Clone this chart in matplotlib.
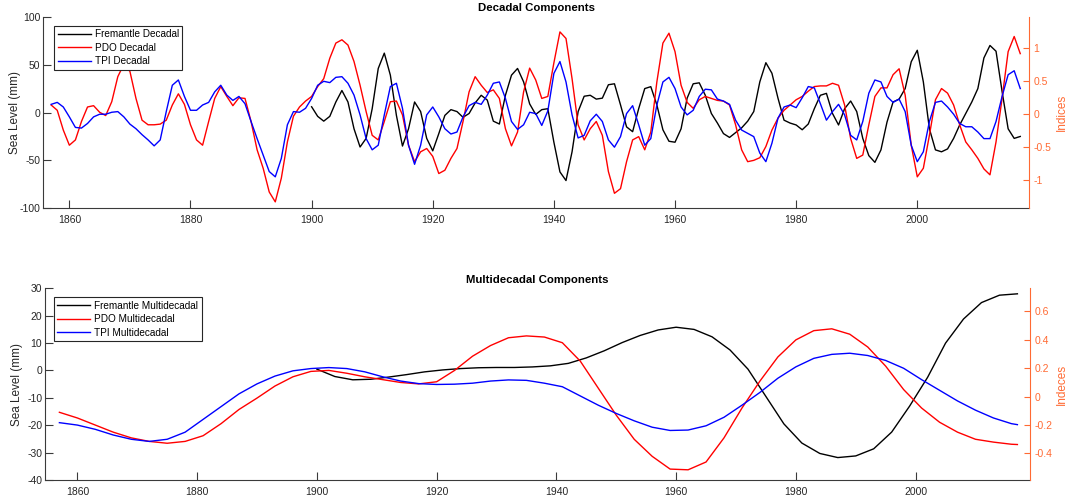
import matplotlib
matplotlib.use('Agg')
import matplotlib.pyplot as plt
import numpy as np
from matplotlib.ticker import FormatStrFormatter

plt.rcParams['font.family'] = ['Liberation Sans', 'DejaVu Sans']
plt.rcParams['axes.unicode_minus'] = False

# ---- decadal components (yearly) ----
years_dec = np.arange(1857, 2018)
years_frem_dec = np.arange(1900, 2018)

pdo_dec = [0.14, 0.06, -0.24,
           -0.47, -0.39, -0.11, 0.11, 0.13, 0.03, -0.02, 0.19, 0.57, 0.76,
           0.65, 0.24, -0.09, -0.16, -0.16, -0.15, -0.09, 0.14, 0.31, 0.15,
           -0.16, -0.39, -0.47, -0.11, 0.24, 0.42, 0.27, 0.13, 0.25, 0.24,
           -0.11, -0.54, -0.82, -1.18, -1.33, -0.97, -0.42, -0.03, 0.11, 0.20,
           0.27, 0.42, 0.54, 0.85, 1.08, 1.13, 1.05, 0.80, 0.44, 0.04,
           -0.32, -0.39, -0.11, 0.19, 0.20, -0.01, -0.47, -0.72, -0.57, -0.52,
           -0.64, -0.90, -0.85, -0.67, -0.52, -0.11, 0.34, 0.57, 0.44, 0.33,
           0.37, 0.24, -0.22, -0.48, -0.27, 0.34, 0.70, 0.52, 0.24, 0.27,
           0.78, 1.25, 1.15, 0.54, -0.16, -0.39, -0.22, -0.11, -0.32, -0.87,
           -1.20, -1.13, -0.72, -0.39, -0.34, -0.54, -0.27, 0.49, 1.08, 1.23,
           0.95, 0.44, 0.18, 0.09, 0.22, 0.27, 0.24, 0.21, 0.20, 0.14,
           -0.16, -0.54, -0.72, -0.70, -0.66, -0.49, -0.24, -0.06, 0.06, 0.14,
           0.22, 0.27, 0.35, 0.42, 0.43, 0.43, 0.47, 0.44, 0.14, -0.37,
           -0.67, -0.62, -0.16, 0.27, 0.40, 0.40, 0.60, 0.69, 0.29, -0.47,
           -0.95, -0.82, -0.32, 0.22, 0.39, 0.32, 0.14, -0.16, -0.42, -0.54,
           -0.67, -0.83, -0.92, -0.42, 0.24, 0.95, 1.18, 0.92]

tpi_dec = [0.15, 0.18, 0.11,
           -0.04, -0.20, -0.21, -0.14, -0.04, 0.00, 0.00, 0.03, 0.04, -0.04,
           -0.15, -0.22, -0.31, -0.39, -0.48, -0.39, 0.04, 0.44, 0.52, 0.27,
           0.06, 0.06, 0.14, 0.18, 0.34, 0.44, 0.29, 0.21, 0.27, 0.16,
           -0.11, -0.37, -0.62, -0.87, -0.95, -0.67, -0.16, 0.04, 0.03, 0.09,
           0.24, 0.44, 0.50, 0.48, 0.56, 0.57, 0.47, 0.29, -0.01, -0.37,
           -0.54, -0.47, -0.01, 0.42, 0.47, 0.09, -0.47, -0.76, -0.47, -0.01,
           0.11, -0.04, -0.22, -0.30, -0.27, -0.04, 0.13, 0.18, 0.15, 0.29,
           0.47, 0.49, 0.24, -0.11, -0.23, -0.16, 0.03, 0.01, -0.17, 0.05,
           0.62, 0.80, 0.49, -0.01, -0.36, -0.32, -0.10, 0.00, -0.11, -0.39,
           -0.50, -0.34, 0.01, 0.13, -0.16, -0.47, -0.37, 0.14, 0.49, 0.56,
           0.39, 0.11, -0.01, 0.06, 0.27, 0.38, 0.37, 0.23, 0.20, 0.15,
           -0.09, -0.24, -0.29, -0.34, -0.59, -0.72, -0.44, -0.06, 0.11, 0.14,
           0.10, 0.25, 0.42, 0.40, 0.16, -0.09, 0.04, 0.15, -0.01, -0.32,
           -0.39, -0.11, 0.32, 0.52, 0.49, 0.27, 0.18, 0.23, 0.04, -0.47,
           -0.72, -0.57, -0.11, 0.18, 0.20, 0.11, 0.00, -0.14, -0.19, -0.19,
           -0.27, -0.37, -0.37, -0.11, 0.27, 0.60, 0.66, 0.39]

frem_dec = [6, -4, -9, -4, 11, 23, 11, -17, -36, -27,
            4, 46, 62, 39, -3, -35, -17, 11, 1, -27,
            -40, -22, -3, 3, 1, -5, -1, 10, 18, 13,
            -9, -12, 18, 39, 46, 32, 9, -2, 3, 4,
            -31, -62, -71, -41, 1, 17, 18, 14, 15, 29,
            30, 8, -15, -20, 4, 25, 27, 8, -18, -30,
            -31, -17, 15, 30, 31, 18, -1, -11, -22, -26,
            -21, -16, -9, 1, 32, 52, 41, 15, -8, -11,
            -13, -18, -12, 4, 18, 20, -1, -13, 4, 12,
            1, -27, -45, -52, -39, -10, 11, 14, 25, 53,
            65, 32, -17, -39, -41, -38, -27, -13, -1, 11,
            25, 57, 70, 64, 22, -17, -27, -25]

# ---- multidecadal components ----
years_md = np.append(np.arange(1857, 2017, 3), 2017)
years_frem_md = np.arange(1900, 2018, 3)

pdo_md = [-0.11, -0.15, -0.20, -0.25, -0.29, -0.315, -0.328, -0.315, -0.275, -0.19,
          -0.09, -0.01, 0.075, 0.14, 0.178, 0.185, 0.165, 0.14, 0.12, 0.10,
          0.09, 0.105, 0.185, 0.285, 0.36, 0.415, 0.428, 0.42, 0.38, 0.25,
          0.06, -0.13, -0.30, -0.42, -0.51, -0.515, -0.46, -0.29, -0.08, 0.11,
          0.28, 0.40, 0.465, 0.478, 0.44, 0.35, 0.215, 0.05, -0.08, -0.18,
          -0.25, -0.30, -0.32, -0.335, -0.337]

tpi_md = [-0.183, -0.20, -0.23, -0.27, -0.30, -0.315, -0.30, -0.25, -0.16, -0.07,
          0.02, 0.09, 0.145, 0.182, 0.198, 0.205, 0.198, 0.175, 0.14, 0.11,
          0.092, 0.086, 0.088, 0.095, 0.11, 0.118, 0.115, 0.095, 0.07, 0.005,
          -0.06, -0.118, -0.17, -0.215, -0.238, -0.235, -0.205, -0.145, -0.06, 0.03,
          0.13, 0.21, 0.27, 0.298, 0.306, 0.29, 0.255, 0.20, 0.12, 0.045,
          -0.03, -0.095, -0.15, -0.19, -0.197]

frem_md = [0.5, -2.2, -3.4, -3.2, -2.4, -1.5, -0.5, 0.2, 0.7, 1.0,
           1.1, 1.1, 1.3, 1.7, 2.6, 4.6, 7.2, 10.2, 12.8, 14.8,
           15.8, 15.0, 12.3, 7.5, 0.5, -9.5, -19.5, -26.5, -30.3, -31.8,
           -31.2, -28.6, -22.5, -13.0, -2.5, 10.0, 18.8, 24.8, 27.5, 28.0]

GREY = '#262626'
ORANGE = '#ff6a33'
LW = 1.0


def style_axes(ax, ax2, xlim, ylim, ylim2, yticks, yticks2, ylabel2, title, lpad):
    ax.set_xlim(*xlim)
    ax.set_ylim(*ylim)
    ax2.set_ylim(*ylim2)
    ax.set_xticks(np.arange(1860, 2001, 20))
    ax.set_yticks(yticks)
    ax2.set_yticks(yticks2)
    ax2.yaxis.set_major_formatter(FormatStrFormatter('%g'))
    for s in ['top', 'right']:
        ax.spines[s].set_visible(False)
    for s in ['top', 'left', 'bottom']:
        ax2.spines[s].set_visible(False)
    for s in ['left', 'bottom']:
        ax.spines[s].set_color('#3a3a3a')
        ax.spines[s].set_linewidth(0.8)
    ax2.spines['right'].set_color(ORANGE)
    ax2.spines['right'].set_linewidth(0.8)
    ax.tick_params(direction='in', length=6, width=0.8, colors='#3a3a3a',
                   labelcolor=GREY, labelsize=7.5)
    ax.tick_params(axis='x', pad=5)
    ax.tick_params(axis='y', pad=2)
    ax2.tick_params(direction='in', length=4, width=0.8, colors=ORANGE,
                    labelsize=7.5, pad=3)
    ax.set_ylabel('Sea Level (mm)', fontsize=8.5, color=GREY, labelpad=lpad)
    ax2.set_ylabel(ylabel2, fontsize=8.5, color=ORANGE, labelpad=3)
    ax.set_title(title, fontsize=8.2, fontweight='bold', pad=4)


fig = plt.figure(figsize=(10.72, 4.98), dpi=100)

# top panel
ax1 = fig.add_axes([0.0404, 0.5817, 0.9198, 0.3847])
ax1b = ax1.twinx()
h1, = ax1.plot(years_frem_dec, frem_dec, color='k', lw=LW, label='Fremantle Decadal')
h2, = ax1b.plot(years_dec, pdo_dec, color='#ff0000', lw=LW, label='PDO Decadal')
h3, = ax1b.plot(years_dec, tpi_dec, color='#0000ff', lw=LW, label='TPI Decadal')
style_axes(ax1, ax1b, (1855.7, 2018.5), (-100, 100), (-1.428, 1.48),
           [-100, -50, 0, 50, 100], [-1, -0.5, 0, 0.5, 1], 'Indices',
           'Decadal Components', -1)
leg = ax1b.legend(handles=[h1, h2, h3], loc='upper left',
                  bbox_to_anchor=(0.011, 0.952), borderaxespad=0,
                  fontsize=7.2, handlelength=3.3, handletextpad=0.4,
                  labelspacing=0.35, borderpad=0.35, fancybox=False,
                  framealpha=1, edgecolor=GREY)
leg.get_frame().set_linewidth(0.8)

# bottom panel
ax2 = fig.add_axes([0.0420, 0.0361, 0.9188, 0.3849])
ax2b = ax2.twinx()
g1, = ax2.plot(years_frem_md, frem_md, color='k', lw=LW, label='Fremantle Multidecadal')
g2, = ax2b.plot(years_md, pdo_md, color='#ff0000', lw=LW, label='PDO Multidecadal')
g3, = ax2b.plot(years_md, tpi_md, color='#0000ff', lw=LW, label='TPI Multidecadal')
style_axes(ax2, ax2b, (1854.6, 2019.1), (-40, 30), (-0.587, 0.763),
           np.arange(-40, 31, 10), [-0.4, -0.2, 0, 0.2, 0.4, 0.6], 'Indeces',
           'Multidecadal Components', 3)
leg2 = ax2b.legend(handles=[g1, g2, g3], loc='upper left',
                   bbox_to_anchor=(0.009, 0.953), borderaxespad=0,
                   fontsize=7.2, handlelength=3.3, handletextpad=0.4,
                   labelspacing=0.35, borderpad=0.35, fancybox=False,
                   framealpha=1, edgecolor=GREY)
leg2.get_frame().set_linewidth(0.8)

fig.savefig('out.png', dpi=100)
